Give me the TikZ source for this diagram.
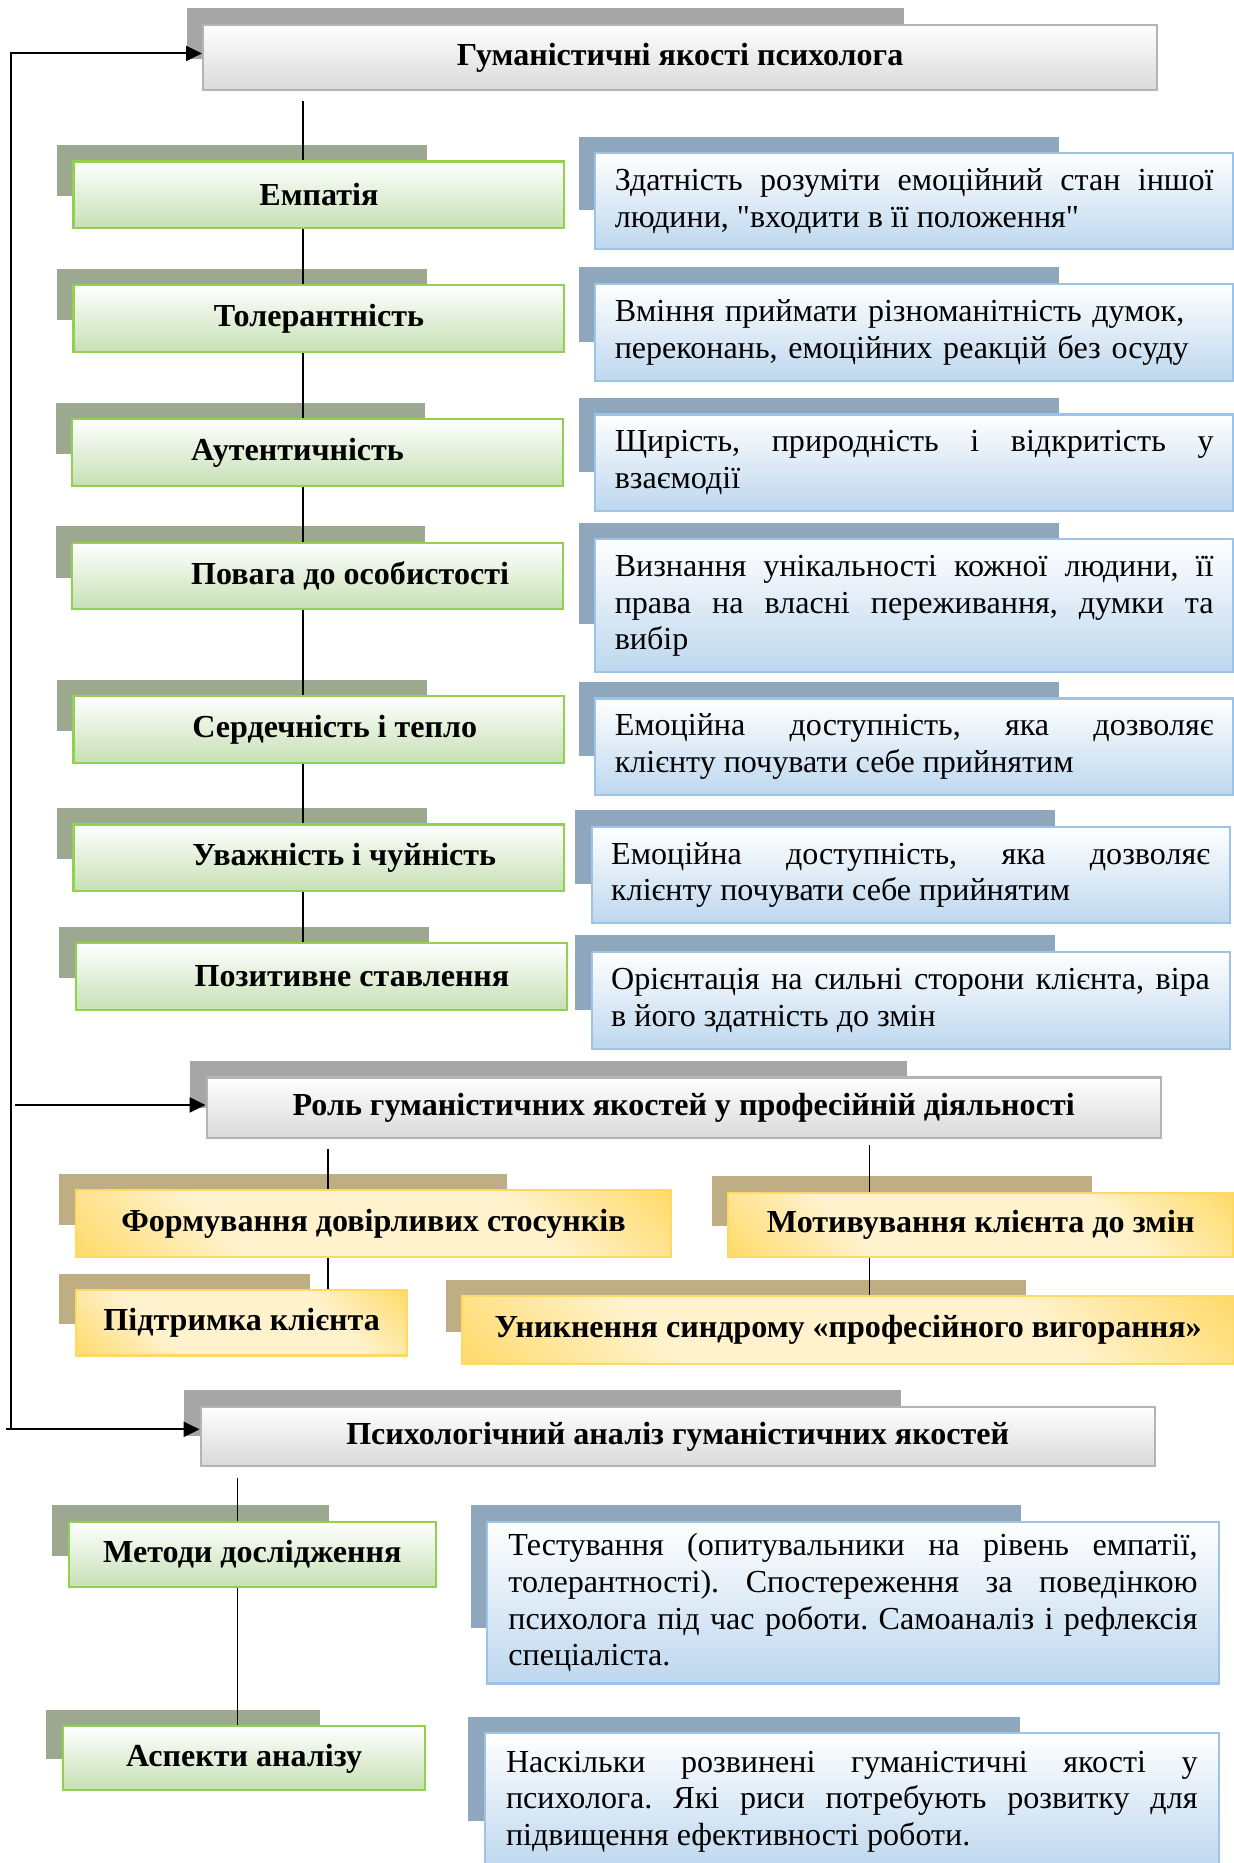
\documentclass[tikz,border=0pt]{standalone}
\usepackage{fontspec}
\setmainfont{Liberation Serif}
\newfontfamily\quotefont{Liberation Serif}
\usetikzlibrary{positioning,calc,arrows.meta,backgrounds}

\definecolor{grayshadow}{HTML}{A6A6A6}
\definecolor{grayline}{HTML}{B4B4B4}
\definecolor{grayfill}{HTML}{D9D9D9}
\definecolor{greenshadow}{HTML}{9DA890}
\definecolor{greenline}{HTML}{92D050}
\definecolor{greenfill}{HTML}{C6E0B4}
\definecolor{blueshadow}{HTML}{8FA7BD}
\definecolor{blueline}{HTML}{9DC3E6}
\definecolor{bluefill}{HTML}{BDD7EE}
\definecolor{ylwshadow}{HTML}{BFAE83}
\definecolor{ylwdark}{HTML}{FFD966}
\definecolor{ylwlight}{HTML}{FFF2CC}

\pgfdeclareverticalshading{ylwdiag}{100bp}{color(0bp)=(ylwdark); color(14bp)=(ylwdark);
  color(33bp)=(ylwlight); color(67bp)=(ylwlight); color(86bp)=(ylwdark); color(100bp)=(ylwdark)}

\newcommand{\boxshadow}[2]{%
  \fill[#2] ($(#1.north west)+(-13,-13)$) rectangle
    ($(#1.north west)+(-13,-13)+0.75*(#1.south east)-0.75*(#1.north west)$);}
\newcommand{\lefttitle}[1]{\makebox[106.5pt][l]{#1}}
\newcommand{\dq}{{\quotefont"}}

\hyphenpenalty=10000
\tolerance=9999
\frenchspacing

\begin{document}
\begin{tikzpicture}[%
    x=0.5pt, y=-0.5pt,
    every node/.style={font=\fontsize{13.5pt}{15.5pt}\selectfont, anchor=north west},
    headbox/.style={draw=grayline, line width=0.9pt, top color=white, bottom color=grayfill,
      minimum width=401.5pt, font=\bfseries\fontsize{13.5pt}{15.5pt}\selectfont},
    greenbox/.style={draw=greenline, line width=0.9pt, top color=white, bottom color=greenfill,
      minimum width=206.5pt, minimum height=28pt, font=\bfseries\fontsize{13.5pt}{15.5pt}\selectfont},
    bluebox/.style={draw=blueline, line width=0.9pt, top color=white, bottom color=bluefill,
      text width=252pt, inner xsep=8.25pt, align=justify},
    ylwbox/.style={draw=ylwdark, line width=0.9pt, shade, shading=ylwdiag, shading angle=-45,
      font=\bfseries\fontsize{13.5pt}{15.5pt}\selectfont},
    link/.style={line width=0.5pt},
    flow/.style={line width=0.85pt, -{Triangle[length=6.7pt,width=6.3pt]}}]

    \useasboundingbox (0,0) rectangle (1038,1568);

    % humanistic qualities
    \node[headbox, minimum height=27.5pt] (hum) at (170,20) {Гуманістичні якості психолога};

    \node[greenbox] (emp) at (61,135) {Емпатія};
    \node[greenbox] (tol) at (61,239) {Толерантність};
    \node[greenbox] (aut) at (60,352) {\lefttitle{Аутентичність}};
    \node[greenbox] (pov) at (60,456) {\lefttitle{Повага до особистості}};
    \node[greenbox] (ser) at (61,585) {\lefttitle{Сердечність і тепло}};
    \node[greenbox] (uva) at (61,693) {\lefttitle{Уважність і чуйність}};
    \node[greenbox] (poz) at (63,793) {\lefttitle{Позитивне ставлення}};

    \node[bluebox, minimum height=40.5pt] (empd) at (500,128)
      {Здатність розуміти емоційний стан іншої\linebreak людини, \dq входити в її положення\dq};
    \node[bluebox, minimum height=41pt, align=left] (told) at (500,238)
      {Вміння приймати різноманітність думок,\\переконань, емоційних реакцій без осуду};
    \node[bluebox, minimum height=40.5pt] (autd) at (500,348)
      {Щирість, природність і відкритість у\linebreak взаємодії};
    \node[bluebox, minimum height=56pt] (povd) at (500,453)
      {Визнання унікальності кожної людини, її\linebreak права на власні переживання, думки та\linebreak вибір};
    \node[bluebox, minimum height=40.5pt] (serd) at (500,587)
      {Емоційна доступність, яка дозволяє\linebreak клієнту почувати себе прийнятим};
    \node[bluebox, minimum height=40.5pt] (uvad) at (497,695)
      {Емоційна доступність, яка дозволяє\linebreak клієнту почувати себе прийнятим};
    \node[bluebox, minimum height=41pt] (pozd) at (497,800)
      {Орієнтація на сильні сторони клієнта, віра\linebreak в його здатність до змін};

    % role
    \node[headbox, minimum height=25.5pt] (role) at (173,906) {Роль гуманістичних якостей у професійній діяльності};

    \node[ylwbox, minimum width=250.5pt, minimum height=28pt] (form) at (63,1001) {Формування довірливих стосунків};
    \node[ylwbox, minimum width=212.5pt, minimum height=27pt] (motiv) at (612,1003) {Мотивування клієнта до змін};
    \node[ylwbox, minimum width=139.5pt, minimum height=27.5pt] (pidtr) at (63,1085) {Підтримка клієнта};
    \node[ylwbox, minimum width=325pt, minimum height=28.5pt] (uvyk) at (388,1090) {Уникнення синдрому «професійного вигорання»};

    % analysis
    \node[headbox, minimum height=25pt] (anal) at (168,1183) {Психологічний аналіз гуманістичних якостей};

    \node[greenbox, minimum width=154.5pt, minimum height=27.5pt] (met) at (57,1280) {Методи дослідження};
    \node[greenbox, minimum width=152.5pt, minimum height=27pt] (asp) at (52,1452) {Аспекти аналізу};

    \node[bluebox, text width=290pt, inner xsep=9pt, minimum height=68pt] (metd) at (409,1280)
      {Тестування (опитувальники на рівень емпатії,\linebreak толерантності). Спостереження за поведінкою\linebreak психолога під час роботи. Самоаналіз і рефлексія\linebreak спеціаліста.};
    \node[bluebox, text width=291pt, inner xsep=9pt, minimum height=57.5pt] (aspd) at (407,1458)
      {Наскільки розвинені гуманістичні якості у\linebreak психолога. Які риси потребують розвитку для\linebreak підвищення ефективності роботи.};

    \coordinate (spine) at (255,0);
    \coordinate (lbranch) at (276,0);
    \coordinate (rbranch) at (732,0);
    \coordinate (abranch) at (200,0);
    \coordinate (looptop) at (9,45);
    \coordinate (loopmid) at (13,930);
    \coordinate (loopbot) at (9,1203);
    \coordinate (loopend) at (5,1203);

    \begin{scope}[on background layer]
    \boxshadow{hum}{grayshadow}
    \boxshadow{role}{grayshadow}
    \boxshadow{anal}{grayshadow}
    \boxshadow{emp}{greenshadow}
    \boxshadow{tol}{greenshadow}
    \boxshadow{aut}{greenshadow}
    \boxshadow{pov}{greenshadow}
    \boxshadow{ser}{greenshadow}
    \boxshadow{uva}{greenshadow}
    \boxshadow{poz}{greenshadow}
    \boxshadow{met}{greenshadow}
    \boxshadow{asp}{greenshadow}
    \boxshadow{empd}{blueshadow}
    \boxshadow{told}{blueshadow}
    \boxshadow{autd}{blueshadow}
    \boxshadow{povd}{blueshadow}
    \boxshadow{serd}{blueshadow}
    \boxshadow{uvad}{blueshadow}
    \boxshadow{pozd}{blueshadow}
    \boxshadow{metd}{blueshadow}
    \boxshadow{aspd}{blueshadow}
    \boxshadow{form}{ylwshadow}
    \boxshadow{motiv}{ylwshadow}
    \boxshadow{pidtr}{ylwshadow}
    \boxshadow{uvyk}{ylwshadow}

    \draw[link, shorten <=4pt] (hum.south -| spine) -- (emp.north -| spine);
    \draw[link] (emp.south -| spine) -- (tol.north -| spine);
    \draw[link] (tol.south -| spine) -- (aut.north -| spine);
    \draw[link] (aut.south -| spine) -- (pov.north -| spine);
    \draw[link] (pov.south -| spine) -- (ser.north -| spine);
    \draw[link] (ser.south -| spine) -- (uva.north -| spine);
    \draw[link] (uva.south -| spine) -- (poz.north -| spine);

    \draw[link, shorten <=4pt] (role.south -| lbranch) -- (form.north -| lbranch);
    \draw[link] (form.south -| lbranch) -- (pidtr.north -| lbranch);
    \draw[link, shorten <=2.5pt] (role.south -| rbranch) -- (motiv.north -| rbranch);
    \draw[link] (motiv.south -| rbranch) -- (uvyk.north -| rbranch);

    \draw[link, shorten <=4.5pt] (anal.south -| abranch) -- (met.north -| abranch);
    \draw[link] (met.south -| abranch) -- (asp.north -| abranch);

    \draw[flow] (loopbot) -- (looptop) -- (looptop -| hum.west);
    \draw[flow] (loopmid) -- (loopmid -| role.west);
    \draw[flow] (loopend) -- (loopend -| anal.west);
    \end{scope}

\end{tikzpicture}
\end{document}
